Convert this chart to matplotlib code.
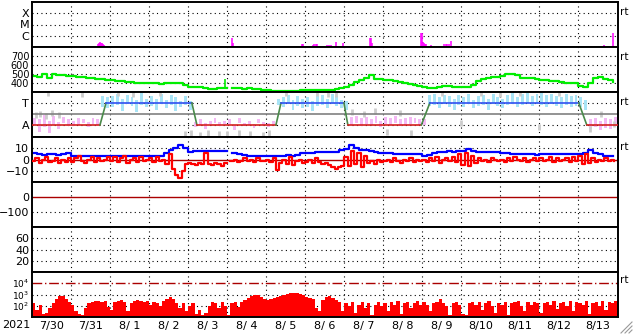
import numpy as np
import matplotlib

matplotlib.use("Agg")
import matplotlib.pyplot as plt  # noqa: E402
from matplotlib.lines import Line2D  # noqa: E402

W, H = 633, 334
plt.rcParams["font.family"] = ["DejaVu Sans"]

# time axis: hours since 2021-07-30 00:00 UT, 15 days
day_labels = ["7/30", "7/31", "8/ 1", "8/ 2", "8/ 3", "8/ 4", "8/ 5", "8/ 6",
              "8/ 7", "8/ 8", "8/ 9", "8/10", "8/11", "8/12", "8/13"]

# GOES X-ray flux (W/m2), only samples above the B level
xray_t = [40.0, 40.6, 41.2, 41.8, 42.4, 43.0, 43.6, 44.3, 90.3, 115.5, 116.2,
          122.9, 123.5, 132.1, 166.0, 166.6, 172.7, 173.3, 174.5, 175.2, 177.6,
          181.3, 182.5, 183.8, 186.8, 191.1, 207.7, 208.3, 208.9, 236.0, 239.1,
          239.7, 240.3, 240.9, 241.5, 242.2, 245.2, 253.2, 254.4, 255.1, 256.3,
          257.9, 315.9, 351.6, 357.0]
xray_flux = [1.23e-7, 1.85e-7, 2.27e-7, 2.62e-7, 2.51e-7, 2.27e-7, 1.85e-7,
             1.36e-7, 1.15e-7, 1.15e-7, 1.15e-7, 5.93e-7, 2.41e-7, 1.15e-7,
             1.96e-7, 1.67e-7, 1.51e-7, 1.85e-7, 1.67e-7, 1.96e-7, 1.15e-7,
             1.36e-7, 1.51e-7, 1.51e-7, 2.96e-7, 2.27e-7, 6.3e-7, 5.7e-7,
             2.27e-7, 1.15e-7, 1.65e-6, 1.65e-6, 2.78e-7, 2.27e-7, 1.96e-7,
             1.67e-7, 1.36e-7, 1.85e-7, 1.85e-7, 1.76e-7, 1.85e-7, 3.41e-7,
             1.15e-7, 1.51e-7, 1.87e-6]

# solar wind speed (km/s), 3-hour samples
speed = [478, 470, 495, 460, 500, 485, 490, 478,
         475, 470, 463, 460, 452, 445, 440, 433,
         432, 425, 422, 415, 410, 404, 400, 398,
         396, 395, 392, 398, 400, 403, 398, 380,
         360, 352, 350, 345, 335, 330, 340, 345,
         np.nan, 340, 345, 338, 342, 335, 330, 325,
         322, 315, 312, 310, 311, 310, 312, 318,
         320, 322, 324, 322, 320, 325, 335, 345,
         358, 380, 410, 430, 455, 490, 445, 440,
         433, 430, 420, 410, 404, 390, 380, 368,
         355, 345, 341, 355, 367, 362, 358, 352,
         352, 360, 378, 420, 441, 455, 465, 470,
         480, 495, 505, 490, 460, 452, 450, 445,
         433, 430, 425, 420, 415, 405, 398, 396,
         370, 360, 395, 455, 463, 440, 433, 415]
speed_spike_t = [118.5]
speed_spike_v = [441]

# IMF sector: A = away (1), T = toward (3)
sector_t = [0, 41.8, 45.5, 98.3, 101.4, 150.0, 153.1, 191.8, 194.2,
            239.4, 244.6, 336.2, 341.1, 360]
sector_lvl = ["A", "A", "T", "T", "A", "A", "T", "T", "A", "A",
              "T", "T", "A", "A"]
# IMF angle spread per 3-hour slot (same scale as sector levels)
phi_lo = [1.0, 0.4, 0.8, 0.3, 1.0, 0.6, 1.2, 0.9,
          0.9, 1.0, 1.2, 0.8, 1.1, 1.0, 2.6, 2.5,
          2.6, 2.8, 2.3, 2.9, 2.7, 2.2, 2.8, 2.6,
          2.7, 2.4, 2.9, 2.5, 2.8, 2.3, 2.6, 2.8,
          2.4, 0.8, 1.0, 0.6, 1.1, 1.2, 0.9, 1.1,
          1.1, 0.5, 1.2, 0.9, 1.0, 0.7, 1.2, 1.0,
          0.8, 1.1, 2.8, 2.6, 2.9, 2.4, 2.7, 2.5,
          2.6, 2.3, 2.7, 2.8, 2.5, 2.9, 2.7, 2.5,
          2.4, 1.0, 1.2, 0.9, 1.1, 1.0, 1.2, 0.8,
          1.1, 1.0, 1.2, 0.9, 1.0, 1.1, 1.2, 1.0,
          1.0, 2.7, 2.8, 2.5, 2.9, 2.6, 2.4, 2.8,
          2.6, 2.9, 2.5, 2.7, 2.8, 2.4, 2.9, 2.7,
          2.5, 2.8, 2.9, 2.6, 2.8, 3.0, 2.7, 2.9,
          2.8, 2.6, 2.9, 2.7, 2.5, 2.8, 2.6, 2.7,
          2.6, 2.4, 0.6, 0.8, 0.5, 0.7, 0.6, 0.9]
phi_hi = [1.6, 1.5, 1.9, 1.4, 1.8, 1.3, 1.7, 1.5,
          1.4, 1.6, 1.5, 1.3, 1.6, 1.5, 3.6, 3.5,
          3.6, 3.8, 3.4, 3.7, 3.5, 3.3, 3.9, 3.4,
          3.6, 3.4, 3.8, 3.3, 3.7, 3.5, 3.2, 3.6,
          3.2, 1.3, 1.5, 1.2, 1.4, 1.6, 1.3, 1.4,
          1.5, 1.0, 1.6, 1.2, 1.4, 1.1, 1.5, 1.3,
          1.2, 1.4, 3.4, 3.5, 3.7, 3.3, 3.6, 3.4,
          3.5, 3.2, 3.6, 3.7, 3.4, 3.8, 3.6, 3.3,
          3.2, 1.7, 1.8, 1.6, 1.7, 1.5, 1.8, 1.4,
          1.7, 1.6, 1.8, 1.5, 1.6, 1.7, 1.6, 1.5,
          1.5, 3.7, 3.8, 3.5, 3.7, 3.6, 3.4, 3.7,
          3.5, 3.8, 3.3, 3.6, 3.7, 3.4, 3.8, 3.5,
          3.4, 3.7, 3.9, 3.5, 3.8, 3.9, 3.6, 3.8,
          3.9, 3.7, 3.8, 3.6, 3.5, 3.8, 3.6, 3.7,
          3.5, 3.3, 1.5, 1.6, 1.4, 1.6, 1.5, 1.7]
gray_t = [2.4, 4.8, 8.4, 12, 16.8, 9.6, 31, 53, 62, 79, 94, 98, 103, 108,
          115, 120, 127, 134, 142, 146, 156, 175, 182, 187, 197, 204, 211,
          218, 226, 233, 252, 264, 276, 288, 300, 312, 324, 343, 350, 358]
gray_v = [1.9, 2.0, 1.8, 2.1, 1.95, 3.9, 3.8, 3.9, 3.8, 3.9, 0.2, 0.3, 0.1,
          0.25, 0.2, 0.15, 0.3, 0.2, 0.1, 0.25, 3.9, 3.9, 3.8, 3.85, 2.2, 2.0,
          2.3, 0.4, 2.1, 0.3, 3.9, 1.2, 3.9, 3.85, 3.9, 0.8, 3.9, 0.6, 2.0, 1.1]

# IMF |B| (nT), 3-hour samples
bt = [5.5, 4.5, 4.0, 4.5, 5.0, 4.0, 4.5, 6.0,
      3.5, 3.5, 3.0, 3.5, 3.5, 3.0, 3.5, 3.0,
      3.5, 3.0, 3.5, 3.5, 3.0, 3.5, 3.5, 3.5,
      3.5, 3.0, 3.5, 6.0, 8.5, 10.0, 13.0, 10.5,
      7.0, 7.5, 7.5, 8.0, 7.5, 7.5, 7.5, 7.5,
      np.nan, 5.5, 5.0, 4.0, 3.5, 3.0, 3.0, 3.5,
      3.0, 3.5, 3.0, 3.5, 4.0, 3.5, 4.0, 5.5,
      6.0, 6.0, 6.5, 6.5, 7.0, 7.0, 7.0, 8.5,
      9.0, 12.5, 10.0, 8.5, 8.5, 8.0, 6.5, 6.0,
      6.0, 5.5, 5.0, 5.0, 4.5, 5.0, 4.5, 4.5,
      3.0, 4.0, 5.5, 6.5, 7.0, 7.5, 7.0, 7.5,
      8.0, 9.0, 7.5, 7.0, 6.5, 6.5, 6.5, 6.5,
      6.0, 5.5, 5.0, 4.5, 4.5, 4.5, 4.5, 4.0,
      4.5, 4.5, 4.5, 5.0, 5.0, 5.0, 5.0, 5.0,
      5.0, 5.5, 8.5, 6.0, 4.5, 3.5, 3.0, 3.5]
# IMF Bz (nT), 2-hour samples
bz = [-1, 1, -3, 0, 2, -2, -1, 1, -3, 0, -2, 1,
      -2, 1, 3, -1, -3, 0, 2, -2, 1, -1, 0, 2,
      -1, 2, -2, 1, 3, -3, 0, 1, -2, 2, -1, 0,
      1, -2, 2, -1, 0, -4, 5, -8, -14, -16, -10, -4,
      -3, -4, -5, -3, -4, 6, -4, -5, -3, -4, -6, -3,
      np.nan, -1, 0, -2, -1, 1, -1, 0, -2, 1, -1, -1,
      0, -2, 1, -9, -3, 0, -4, 2, -5, -1, 0, -3,
      -2, 0, -3, 1, -2, -4, -3, -5, -7, -8, -7, -6,
      2, -6, 8, -4, 6, -7, 3, -3, -1, -4, 0, -2,
      -1, 0, -2, 1, -1, -3, 0, -1, 1, -2, 0, -1,
      0, -2, 1, -1, 2, -3, 0, 1, -1, 2, -2, 5,
      -5, 6, -6, 3, -3, 1, -1, 0, -2, 1, 0, -1,
      0, -2, 1, -1, 2, 0, -1, 1, -2, 0, 1, -1,
      1, -1, 0, 2, -2, 1, -1, 0, 1, -2, 2, -1,
      3, -4, 5, -3, 1, -2, 0, -1, 1, -1, 0, -1]

# >2 MeV electron flux, log10, 2-hour samples
elec_log = [2.2, 1.6, 2.1, 1.3, 1.4, 1.8, 2.2, 2.6, 2.9, 2.85, 2.6, 2.3,
            2.1, 1.5, 1.3, 1.2, 1.8, 2.2, 2.3, 2.4, 2.45, 2.3, 2.4, 1.9,
            1.6, 2.3, 2.4, 2.5, 2.3, 1.5, 2.2, 2.4, 2.5, 2.4, 2.3, 2.4,
            2.1, 2.3, 2.2, 2.0, 2.4, 2.6, 2.75, 2.6, 2.2, 1.8, 2.2, 1.5,
            2.0, 2.2, 1.3, 1.6, 1.2, 1.4, 2.0, 2.3, 2.25, 1.8, 2.35, 2.0,
            1.2, 2.2, 2.3, 1.9, 2.3, 2.5, 2.7, 2.85, 3.0, 3.0, 2.8, 2.6,
            2.5, 2.6, 2.7, 2.8, 2.9, 3.0, 3.05, 3.1, 3.15, 3.15, 3.05, 2.95,
            2.8, 2.7, 2.6, 1.8, 1.5, 2.5, 2.8, 2.9, 2.7, 2.5, 2.3, 1.5,
            2.2, 2.0, 2.3, 1.4, 2.1, 2.3, 1.8, 2.2, 1.2, 2.1, 2.3, 2.0,
            2.2, 1.5, 2.3, 2.1, 2.4, 1.3, 2.2, 2.3, 1.8, 2.2, 2.4, 2.1,
            2.3, 2.1, 1.5, 2.2, 2.3, 2.6, 2.2, 2.0, 1.2, 2.2, 2.3, 2.1,
            1.3, 1.2, 2.2, 2.3, 2.1, 2.3, 1.6, 2.2, 2.4, 2.0, 1.4, 2.2,
            2.1, 2.3, 1.2, 2.2, 2.3, 2.4, 2.0, 1.5, 2.3, 2.1, 2.3, 2.2,
            1.4, 2.2, 2.3, 2.1, 2.4, 1.7, 2.2, 2.3, 2.0, 2.4, 1.5, 2.3,
            2.2, 2.1, 2.4, 1.3, 2.2, 2.3, 2.0, 2.4, 1.6, 2.3, 2.2, 2.4]

MAGENTA = "#ff00ff"
GREEN = "#00ee00"
DARKRED = "#aa0000"
DOT = (0, (1, 3))

fig = plt.figure(figsize=(W / 100, H / 100), dpi=100)
fig.patch.set_facecolor("white")

edges = [2, 47, 92, 137, 182, 227, 272, 317]
x0, x1 = 32, 617.5
axes = []
for i in range(7):
    top, bot = edges[i], edges[i + 1]
    ax = fig.add_axes([x0 / W, 1 - bot / H, (x1 - x0) / W, (bot - top) / H])
    ax.set_xlim(0, 360)
    for s in ax.spines.values():
        s.set_color("black")
        s.set_linewidth(1.4)
    ax.tick_params(length=0, labelsize=8, pad=2)
    ax.set_xticks([])
    for d in range(1, 15):
        ax.axvline(d * 24, color="black", lw=0.8, ls=DOT, zorder=0)
    axes.append(ax)


def hdots(ax, levels):
    for v in levels:
        ax.axhline(v, color="black", lw=0.8, ls=DOT, zorder=0)


# 1. X-ray flux
ax = axes[0]
ax.set_yscale("log")
ax.set_ylim(1e-7, 1e-3)
ax.minorticks_off()
ax.set_yticks([1e-6, 1e-5, 1e-4])
ax.set_yticklabels(["C", "M", "X"])
hdots(ax, [1e-6, 1e-5, 1e-4])
ax.vlines(xray_t, 1e-7, xray_flux, color=MAGENTA, lw=1.1)

# 2. solar wind speed
ax = axes[1]
ax.set_ylim(300, 800)
ax.set_yticks([400, 500, 600, 700])
ax.tick_params(axis="y", labelsize=7)
hdots(ax, [400, 500, 600, 700])
t3 = np.arange(len(speed)) * 3
ax.plot(t3, speed, drawstyle="steps-post", color=GREEN, lw=1.6)
ax.vlines(speed_spike_t, 345, speed_spike_v, color=GREEN, lw=1.2)

# 3. IMF sector
ax = axes[2]
ax.set_ylim(-0.1, 4.0)
ax.set_yticks([1, 3])
ax.set_yticklabels(["A", "T"])
hdots(ax, [1, 3])
phi_lo_a = np.array(phi_lo)
phi_hi_a = np.array(phi_hi)
mid = (phi_lo_a + phi_hi_a) / 2
cols = np.where(mid > 2, "#a8e4f6", "#f4b8f4")
ax.bar(t3 + 1.5, phi_hi_a - phi_lo_a, bottom=phi_lo_a, width=1.8,
       color=cols, lw=0, zorder=1)
ax.plot(gray_t, gray_v, ls="none", marker="|", ms=5, mew=2,
        color="#cccccc", zorder=1)
ax.axhline(2, color="#808080", lw=1.2, zorder=2)
lvl = {"A": 1, "T": 3}
for i in range(len(sector_t) - 1):
    a, b = sector_lvl[i], sector_lvl[i + 1]
    if a == b:
        c = "#d42020" if a == "A" else "#3050f0"
    else:
        c = "#4a8a4a"
    ax.plot(sector_t[i:i + 2], [lvl[a], lvl[b]], color=c, lw=1.2, zorder=3)

# 4. IMF Bt / Bz
ax = axes[3]
ax.set_ylim(-20, 20)
ax.set_yticks([10, 0, -10])
hdots(ax, [10, -10])
ax.axhline(0, color=DARKRED, lw=1.0, zorder=1)
ax.plot(t3, bt, drawstyle="steps-post", color="#0000ff", lw=1.6, zorder=2)
t2 = np.arange(len(bz)) * 2
ax.plot(t2, bz, drawstyle="steps-post", color="#ff0000", lw=1.6, zorder=3)

# 5. Dst
ax = axes[4]
ax.set_ylim(-200, 100)
ax.set_yticks([0, -100])
hdots(ax, [-100])
ax.axhline(0, color=DARKRED, lw=1.0)

# 6. Kp-like panel
ax = axes[5]
ax.set_ylim(0, 80)
ax.set_yticks([60, 40, 20])
hdots(ax, [20, 40, 60])

# 7. electron flux
ax = axes[6]
ax.set_yscale("log")
ax.set_ylim(1e1, 1e5)
ax.minorticks_off()
ax.set_yticks([1e4, 1e3, 1e2])
ax.set_yticklabels([r"$10^4$", r"$10^3$", r"$10^2$"])
ax.tick_params(axis="y", labelsize=6.5)
hdots(ax, [1e3, 1e2])
ax.axhline(1e4, color=DARKRED, lw=1.0, ls=(0, (7, 2, 1, 2)))
e_t = np.append(np.arange(len(elec_log)) * 2, 360)
e_v = np.append(10 ** np.array(elec_log), 10 ** elec_log[-1])
ax.fill_between(e_t, 10, e_v, step="post", color="#ff0000", lw=0)
ax.set_xticks(np.arange(15) * 24 + 12)
ax.set_xticklabels(day_labels)
ax.tick_params(axis="x", labelsize=8, pad=3)

fig.text(16 / W, 1 - 325 / H, "2021", ha="center", va="center", fontsize=8)
for y in [12, 57, 102, 147, 280]:
    fig.text(620 / W, 1 - y / H, "rt", ha="left", va="center", fontsize=7.5)

# window resize grip
for k in range(3):
    o = 4 + 4 * k
    fig.add_artist(Line2D([(W - o) / W, (W - 1) / W],
                          [1 - (H - 1) / H, 1 - (H - o) / H],
                          color="#999999", lw=0.8))

fig.savefig("out.png", dpi=100, facecolor="white")
